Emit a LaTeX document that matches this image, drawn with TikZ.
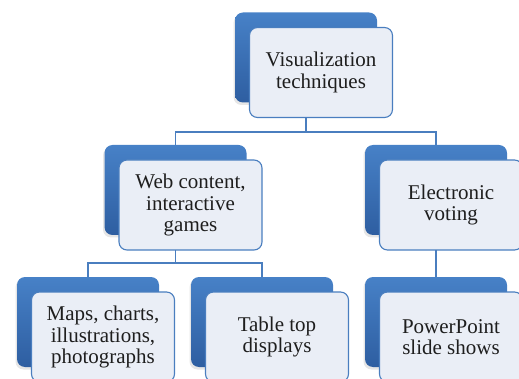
\documentclass[tikz,border=0pt]{standalone}
\usepackage{fontspec}
\setmainfont{Liberation Serif}
\usetikzlibrary{shadows}
\definecolor{boxtop}{HTML}{4781C7}
\definecolor{boxbot}{HTML}{2E5EA1}
\definecolor{frontfill}{HTML}{EAEEF6}
\definecolor{linkblue}{HTML}{4A7EBF}
\definecolor{textgray}{HTML}{1E1E1E}
\begin{document}
\begin{tikzpicture}[x=1pt, y=-1pt,
    backbox/.style={minimum width=142pt, minimum height=90pt, rounded corners=8pt,
      inner sep=0pt, top color=boxtop, bottom color=boxbot, draw=none,
      drop shadow={opacity=0.2, shadow xshift=-1.5pt, shadow yshift=-2.5pt}},
    frontbox/.style={minimum width=143pt, minimum height=90pt, rounded corners=8pt,
      inner sep=0pt, draw=linkblue, line width=1.1pt, fill=frontfill,
      text=textgray, align=center, font=\fontsize{21}{21.5}\selectfont},
    link/.style={draw=linkblue, line width=1.3pt}]
    % page
    \clip (0,0) rectangle (519,379);

    % Back boxes
    \node[backbox] (vis) at (306,57.5) {};
    \node[backbox] (web) at (175.5,190) {};
    \node[backbox] (vote) at (436,190) {};
    \node[backbox] (maps) at (88,322) {};
    \node[backbox] (table) at (262,322) {};
    \node[backbox] (ppt) at (436,322) {};

    % Links from the top
    \coordinate (vissplit) at (306,132);
    \draw[link] (vis.south) -- (vissplit);
    \draw[link] (vissplit) -| (web.north);
    \draw[link] (vissplit) -| (vote.north);
    % Links from web content
    \coordinate (websplit) at (175.5,263);
    \draw[link] (web.south) -- (websplit);
    \draw[link] (websplit) -| (maps.north);
    \draw[link] (websplit) -| (table.north);
    % Link from voting
    \draw[link] (vote.south) -- (ppt.north);

    % Front boxes
    \node[frontbox] (visf) at (321,72.5) {Visualization\\techniques};
    \node[frontbox] (webf) at (190.5,205) {Web content,\\interactive\\games};
    \node[frontbox] (votef) at (451,205) {Electronic\\voting};
    \node[frontbox] (mapsf) at (103,337) {Maps, charts,\\illustrations,\\photographs};
    \node[frontbox] (tablef) at (277,337) {Table top\\displays};
    \node[frontbox] (pptf) at (451,337) {PowerPoint\\slide shows};
\end{tikzpicture}
\end{document}
